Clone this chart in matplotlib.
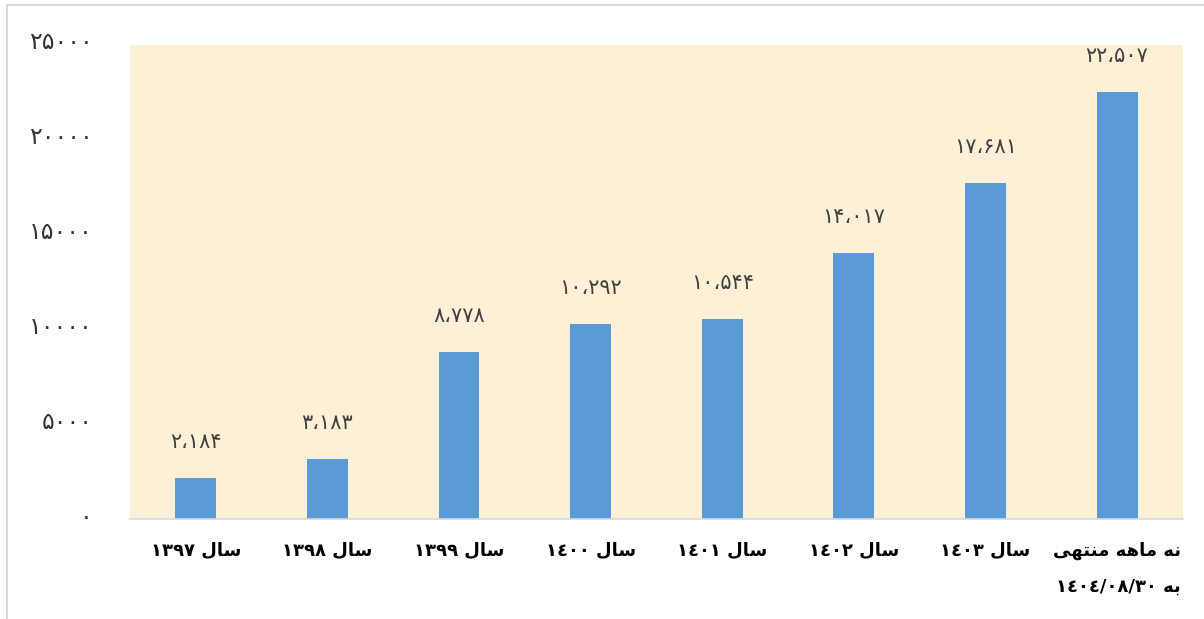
import matplotlib.pyplot as plt
from matplotlib.transforms import ScaledTranslation

# Persian text is written in visual (left-to-right) order with presentation forms,
# because matplotlib does no Arabic shaping or bidi.
SAL = "\uFEDD\uFE8E\uFEB3"  # سال
categories = [
    "\u06F1\u06F3\u06F9\u06F7 " + SAL,
    "\u06F1\u06F3\u06F9\u06F8 " + SAL,
    "\u06F1\u06F3\u06F9\u06F9 " + SAL,
    "\u0661\u0664\u0660\u0660 " + SAL,
    "\u0661\u0664\u0660\u0661 " + SAL,
    "\u0661\u0664\u0660\u0662 " + SAL,
    "\u0661\u0664\u0660\u0663 " + SAL,
    "\uFEF0\uFEEC\uFE98\uFEE8\uFEE3 \uFEEA\uFEEB\uFE8E\uFEE3 \uFEEA\uFEE7\n"
    "\u0661\u0664\u0660\u0664/\u0660\u0668/\u0663\u0660 \uFEEA\uFE91",
]
values = [2184, 3183, 8778, 10292, 10544, 14017, 17681, 22507]
value_labels = ["\u06F2\u060C\u06F1\u06F8\u06F4", "\u06F3\u060C\u06F1\u06F8\u06F3",
                "\u06F8\u060C\u06F7\u06F7\u06F8", "\u06F1\u06F0\u060C\u06F2\u06F9\u06F2",
                "\u06F1\u06F0\u060C\u06F5\u06F4\u06F4", "\u06F1\u06F4\u060C\u06F0\u06F1\u06F7",
                "\u06F1\u06F7\u060C\u06F6\u06F8\u06F1", "\u06F2\u06F2\u060C\u06F5\u06F0\u06F7"]
y_ticks = [0, 5000, 10000, 15000, 20000, 25000]
y_tick_labels = ["\u06F0", "\u06F5\u06F0\u06F0\u06F0", "\u06F1\u06F0\u06F0\u06F0\u06F0",
                 "\u06F1\u06F5\u06F0\u06F0\u06F0", "\u06F2\u06F0\u06F0\u06F0\u06F0",
                 "\u06F2\u06F5\u06F0\u06F0\u06F0"]

plt.rcParams['font.family'] = ['DejaVu Sans']

fig = plt.figure(figsize=(12.04, 6.19), dpi=100)
ax = fig.add_axes([0.108, 0.1615, 0.8745, 0.7665])
ax.set_facecolor("#fdf0d7")

x = list(range(len(values)))
bars = ax.bar(x, values, width=0.31, color="#5b9bd5", zorder=2)

for xi, v, lab in zip(x, values, value_labels):
    ax.annotate(lab, xy=(xi, v), xytext=(0, 26), textcoords="offset pixels",
                ha="center", va="bottom", fontsize=15, color="#404040")

ax.set_xlim(-0.5, len(values) - 0.5)
ax.set_ylim(0, 25000)
ax.set_yticks(y_ticks)
ax.set_yticklabels(y_tick_labels, fontsize=17, color="#333333")
ax.set_xticks(x)
ax.set_xticklabels(categories, fontsize=13, fontweight="bold", color="black",
                   multialignment="right", linespacing=2.3)
ax.tick_params(axis="y", length=0, pad=27)
ax.tick_params(axis="x", length=0, pad=16)
for t in ax.get_yticklabels():
    t.set_transform(t.get_transform() + ScaledTranslation(0, 5 / 100, fig.dpi_scale_trans))
for t in ax.get_xticklabels():
    t.set_verticalalignment("top")

for s in ["top", "right", "left"]:
    ax.spines[s].set_visible(False)
ax.spines["bottom"].set_color("#d9d9d9")
ax.spines["bottom"].set_linewidth(1.2)

fig.patches.append(plt.Rectangle((0.006, -0.01), 1.0, 1.002, transform=fig.transFigure,
                                 fill=False, edgecolor="#d9d9d9", linewidth=1.5))

plt.savefig("out.png", dpi=100)
